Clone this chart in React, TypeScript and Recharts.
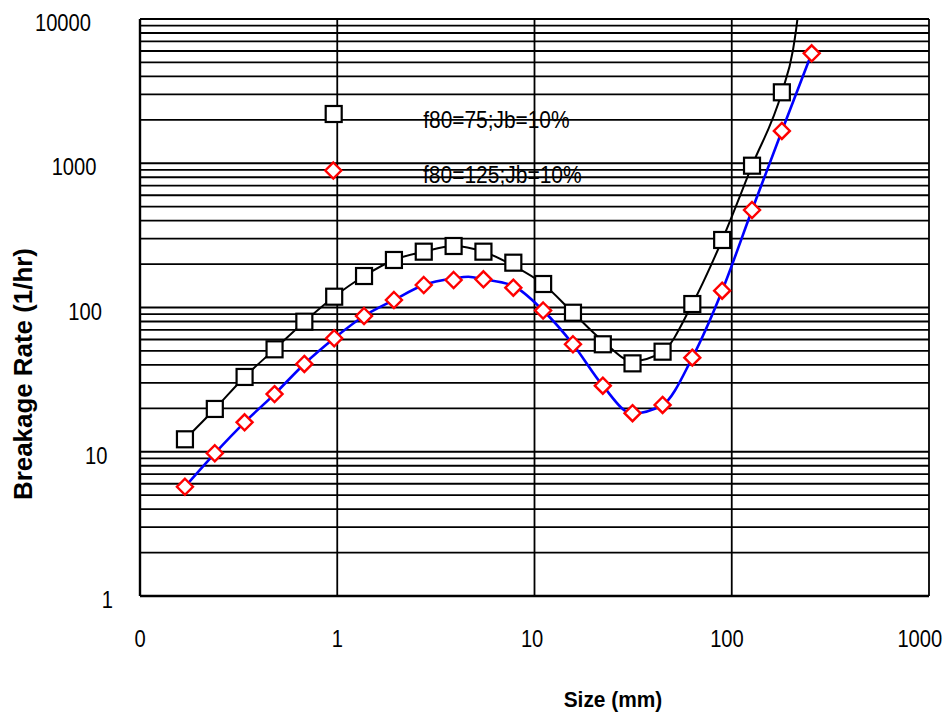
import React from 'react';
import { ComposedChart, Line, Scatter, XAxis, YAxis, CartesianGrid, Customized } from 'recharts';

// Particle sizes (mm)
const sizeMm = [0.169, 0.2395, 0.339, 0.481, 0.681, 0.965, 1.367, 1.938, 2.745, 3.89, 5.51, 7.81, 11.06, 15.67, 22.2, 31.4, 44.6, 63.1, 89.4, 126.7, 179.5, 254.3];

// Measured breakage rates (1/hr)
const rateF75 = [12.2, 19.8, 33.0, 51.3, 79.7, 118.8, 165.3, 213.5, 243.8, 266.9, 243.8, 204.5, 145.5, 92.0, 55.6, 41.0, 49.4, 105.7, 293.8, 961.6, 3103];
const rateF125 = [5.72, 9.76, 16.0, 25.1, 40.6, 61.2, 87.3, 112.7, 143.2, 155.1, 156.9, 137.2, 95.3, 55.6, 28.7, 18.5, 21.1, 44.9, 130.8, 474, 1674, 5784];

// Fitted curves
const fitSizeF75 = [0.169, 0.2395, 0.339, 0.481, 0.681, 0.965, 1.367, 1.938, 2.745, 3.89, 5.51, 7.81, 11.06, 15.67, 22.2, 31.4, 44.6, 63.1, 89.4, 126.7, 179.5, 204.4, 211.8, 215.3];
const fitRateF75 = [12.2, 19.8, 33.0, 51.3, 79.7, 118.8, 165.3, 213.5, 243.8, 266.9, 243.8, 195, 145.5, 92.0, 58.5, 42.5, 49.4, 105.7, 293.8, 961.6, 3103, 6097, 8390, 10000];
const fitSizeF125 = [0.169, 0.2395, 0.339, 0.481, 0.681, 0.965, 1.367, 1.938, 2.745, 3.89, 4.62, 5.51, 7.81, 11.06, 15.67, 22.2, 31.4, 44.6, 63.1, 89.4, 126.7, 179.5, 254.3];
const fitRateF125 = [5.72, 9.76, 16.0, 25.1, 40.6, 61.2, 87.3, 112.7, 143.2, 159, 163.5, 157, 141, 95.3, 55.6, 28.7, 18.4, 21.1, 44.9, 130.8, 474, 1674, 5784];

const seriesNames = ['f80=75;Jb=10%', 'f80=125;Jb=10%'];

const xTicks = [0.1, 1, 10, 100, 1000];
const xTickLabels = ['0', '1', '10', '100', '1000'];
const yDecades = [1, 10, 100, 1000, 10000];
const yTickLabels = ['1', '10', '100', '1000', '10000'];
const gridMultipliers = [1, 2, 3, 4, 5, 6, 7, 8, 9];

const yGridValues = yDecades.flatMap((d) => (d < 10000 ? gridMultipliers.map((m) => m * d) : [d]));

const pts = (xs: number[], ys: number[]) => ys.map((y, i) => ({ x: xs[i], y }));
const markersF75 = pts(sizeMm, rateF75);
const markersF125 = pts(sizeMm, rateF125);
const curveF75 = pts(fitSizeF75, fitRateF75);
const curveF125 = pts(fitSizeF125, fitRateF125);

const FONT = '"Liberation Sans", Arial, sans-serif';

const SquareShape = (p: any) => (
  <rect x={p.cx - 8} y={p.cy - 8} width={16} height={16} fill="#fff" stroke="#000" strokeWidth={2.2} />
);
const DiamondShape = (p: any) => (
  <path d={`M${p.cx},${p.cy - 8} L${p.cx + 8},${p.cy} L${p.cx},${p.cy + 8} L${p.cx - 8},${p.cy} Z`} fill="#fff" stroke="#ff0000" strokeWidth={2.4} />
);

// condensed text drawn by horizontal scaling
const Narrow = ({ x, y, anchor = 'start', size = 24, weight = 'normal', squeeze = 0.84, children }: any) => (
  <g transform={`translate(${x} ${y}) scale(${squeeze} 1)`}>
    <text x={0} y={0} textAnchor={anchor} fontFamily={FONT} fontSize={size} fontWeight={weight} fill="#000">
      {children}
    </text>
  </g>
);

const YTick = (props: any) => {
  const { y, payload } = props;
  const i = yDecades.indexOf(payload.value);
  if (i < 0) return <g />;
  const label = yTickLabels[i];
  const n = label.length;
  return <Narrow x={83 + 5.5 * (5 - n)} y={y + 12} anchor="end">{label}</Narrow>;
};

const XTick = (props: any) => {
  const { x, payload } = props;
  const i = xTicks.indexOf(payload.value);
  const label = xTickLabels[i] ?? String(payload.value);
  const n = label.length;
  const shift = -2.4 * (n - 1) - (n > 3 ? 2 : 0);
  return <Narrow x={x + shift} y={638.7} anchor="middle">{label}</Narrow>;
};

const Overlay = () => (
  <g fontFamily={FONT} fill="#000">
    <text transform="rotate(-90 24 366)" x={24} y={366} textAnchor="middle" fontWeight="bold" fontSize={25} textLength={252} lengthAdjust="spacingAndGlyphs">
      Breakage Rate (1/hr)
    </text>
    <Narrow x={605} y={698.5} anchor="middle" size={22} weight="bold" squeeze={0.95}>Size (mm)</Narrow>
    <SquareShape cx={325.7} cy={106} />
    <Narrow x={415.3} y={120} squeeze={0.87}>{seriesNames[0]}</Narrow>
    <DiamondShape cx={325.3} cy={162.5} />
    <Narrow x={415} y={175} squeeze={0.875}>{seriesNames[1]}</Narrow>
  </g>
);

export default function App() {
  return (
    <div style={{ width: 946, height: 715, padding: '8px 0 0 8px', boxSizing: 'border-box', fontFamily: FONT, overflow: 'hidden' }}>
      <style>{`html,body{margin:0;padding:0;}`}</style>
      <ComposedChart width={938} height={707} margin={{ top: 11, right: 17, bottom: 0, left: 0 }}>
        <CartesianGrid stroke="#000" strokeWidth={1.8} horizontal vertical />
        <XAxis
          dataKey="x"
          type="number"
          scale="log"
          domain={[0.1, 1000]}
          allowDataOverflow
          ticks={xTicks}
          tick={<XTick />}
          tickLine={false}
          axisLine={{ stroke: '#000', strokeWidth: 2.4 }}
          height={119}
          interval={0}
        />
        <YAxis
          dataKey="y"
          type="number"
          scale="log"
          domain={[1, 10000]}
          allowDataOverflow
          ticks={yGridValues}
          tick={<YTick />}
          tickLine={false}
          axisLine={{ stroke: '#000', strokeWidth: 2.4 }}
          width={132}
          interval={0}
        />
        <Scatter data={markersF75} dataKey="y" shape={<SquareShape />} isAnimationActive={false} />
        <Scatter data={markersF125} dataKey="y" shape={<DiamondShape />} isAnimationActive={false} />
        <Line data={curveF75} dataKey="y" type="monotone" stroke="#000" strokeWidth={2} dot={false} activeDot={false} isAnimationActive={false} />
        <Line data={curveF125} dataKey="y" type="monotone" stroke="#0000ff" strokeWidth={2.6} dot={false} activeDot={false} isAnimationActive={false} />
        <Customized component={Overlay} />
      </ComposedChart>
    </div>
  );
}
